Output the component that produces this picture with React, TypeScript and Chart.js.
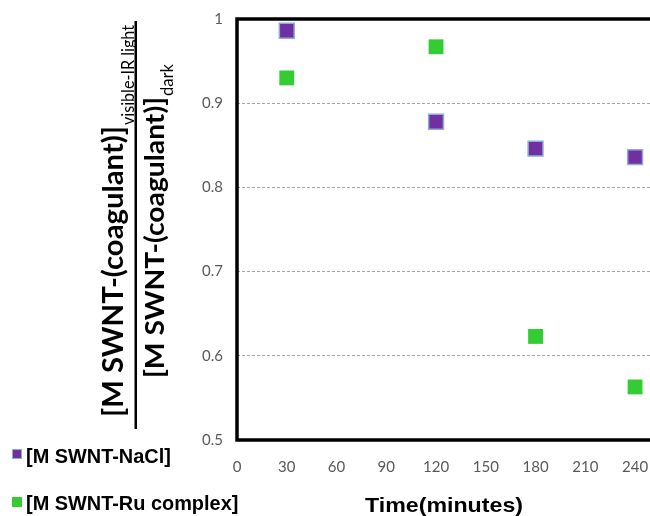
import { useEffect, useRef } from "react";
import { Chart, registerables } from "chart.js";

Chart.register(...registerables);

const timesMin = [30, 120, 180, 240];
const naclRatio = [0.986, 0.878, 0.846, 0.836];
const ruRatio = [0.93, 0.967, 0.623, 0.563];
const xTickValues = [0, 30, 60, 90, 120, 150, 180, 210, 240];
const seriesLabels = ["[M SWNT-NaCl]", "[M SWNT-Ru complex]"];
const seriesColors = ["#7030A0", "#33CC33"];
const seriesBorders = ["#8FAADC", "#33CC33"];
const xTitle = "Time(minutes)";
const yNumMain = "[M SWNT-(coagulant)]";
const yNumSub = "visible-IR light";
const yDenMain = "[M SWNT-(coagulant)]";
const yDenSub = "dark";

const fitFont = (ctx: CanvasRenderingContext2D, text: string, weight: string, family: string, target: number) => {
  ctx.font = `${weight} 100px ${family}`;
  const w = ctx.measureText(text).width;
  return (100 * target) / w;
};

// draw text compressed horizontally (in its own frame) to a target width
const drawSquished = (
  ctx: CanvasRenderingContext2D,
  text: string,
  font: string,
  x: number,
  y: number,
  target: number
) => {
  ctx.save();
  ctx.font = font;
  const w = ctx.measureText(text).width;
  const k = target / w;
  ctx.translate(x, y);
  ctx.scale(k, 1);
  ctx.fillText(text, 0, 0);
  ctx.restore();
};

const decorPlugin = {
  id: "decor",
  afterDraw(chart: any) {
    const { ctx, chartArea } = chart;
    const { left, top, bottom } = chartArea;
    const edge = chart.width + 5;
    ctx.save();
    // frame (top, left, bottom)
    ctx.strokeStyle = "#000";
    ctx.lineWidth = 3.5;
    ctx.lineJoin = "miter";
    ctx.beginPath();
    ctx.moveTo(edge, top);
    ctx.lineTo(left, top);
    ctx.lineTo(left, bottom);
    ctx.lineTo(edge, bottom);
    ctx.stroke();

    // y title as fraction
    const drawRot = (
      main: string,
      sub: string,
      baseX: number,
      startY: number,
      mainSize: number,
      target: number,
      subSize: number,
      subTarget: number,
      subOff: number
    ) => {
      ctx.save();
      ctx.translate(baseX, startY);
      ctx.rotate(-Math.PI / 2);
      ctx.fillStyle = "#000";
      ctx.textBaseline = "alphabetic";
      ctx.textAlign = "left";
      drawSquished(ctx, main, `bold ${mainSize}px Lato`, 0, 0, target);
      drawSquished(ctx, sub, `${subSize}px Lato`, target + 1, subOff, subTarget);
      ctx.restore();
    };
    drawRot(yNumMain, yNumSub, 123, 417, 28, 291, 18, 100, 11);
    drawRot(yDenMain, yDenSub, 164, 378, 27, 281, 18, 32, 9);
    ctx.fillStyle = "#000";
    ctx.fillRect(134.5, 21, 2.5, 408);

    // x title
    ctx.textBaseline = "alphabetic";
    ctx.textAlign = "left";
    ctx.fillStyle = "#000";
    drawSquished(ctx, xTitle, "bold 21px 'Liberation Sans'", 365, 512, 158);

    // legend
    const lSize = fitFont(ctx, seriesLabels[0], "bold", "'Liberation Sans'", 145);
    const rows = [
      { sq: 449, base: 463 },
      { sq: 497, base: 510 },
    ];
    seriesLabels.forEach((lab, i) => {
      ctx.fillStyle = seriesColors[i];
      ctx.fillRect(12, rows[i].sq, 10, 10);
      if (i === 0) {
        ctx.strokeStyle = seriesBorders[i];
        ctx.lineWidth = 1;
        ctx.strokeRect(12.5, rows[i].sq + 0.5, 9, 9);
      }
      ctx.fillStyle = "#000";
      ctx.font = `bold ${lSize}px 'Liberation Sans'`;
      ctx.textAlign = "left";
      ctx.fillText(lab, 26, rows[i].base);
    });
    ctx.restore();
  },
};

export default function App() {
  const ref = useRef<HTMLCanvasElement | null>(null);
  useEffect(() => {
    document.body.style.margin = "0";
    const canvas = ref.current!;
    const chart = new Chart(canvas, {
      type: "scatter",
      data: {
        datasets: [
          {
            label: seriesLabels[0],
            data: timesMin.map((t, i) => ({ x: t, y: naclRatio[i] })),
            backgroundColor: seriesColors[0],
            borderColor: seriesBorders[0],
            borderWidth: 1.5,
            pointStyle: "rect",
            pointRadius: 10.5,
          },
          {
            label: seriesLabels[1],
            data: timesMin.map((t, i) => ({ x: t, y: ruRatio[i] })),
            backgroundColor: seriesColors[1],
            borderColor: seriesBorders[1],
            borderWidth: 0,
            pointStyle: "rect",
            pointRadius: 10.5,
          },
        ],
      },
      options: {
        animation: false,
        responsive: false,
        devicePixelRatio: 1,
        layout: { autoPadding: false, padding: { left: 192, top: 19, right: 0, bottom: 0 } },
        plugins: { legend: { display: false }, tooltip: { enabled: false } },
        scales: {
          x: {
            type: "linear",
            min: 0,
            max: 249,
            bounds: "data",
            afterBuildTicks: (s: any) => {
              s.ticks = xTickValues.map((v) => ({ value: v }));
            },
            afterFit: (s: any) => {
              s.height = 76;
              s.paddingLeft = 0;
              s.paddingRight = 0;
            },
            ticks: {
              stepSize: 30,
              padding: 18,
              color: "#595959",
              font: { family: "Lato", size: 15 },
              maxRotation: 0,
              autoSkip: false,
            },
            grid: { display: false, drawTicks: false },
            border: { display: false },
          },
          y: {
            type: "linear",
            min: 0.5,
            max: 1,
            afterFit: (s: any) => {
              s.width = 45;
              s.paddingTop = 0;
              s.paddingBottom = 0;
            },
            ticks: {
              stepSize: 0.1,
              padding: 14,
              color: "#595959",
              font: { family: "Lato", size: 15 },
              callback: (v: any) => String(Number(Number(v).toFixed(1))),
            },
            grid: { color: "#A6A6A6", lineWidth: 1, drawTicks: false },
            border: { display: false, dash: [3, 2] },
          },
        },
      },
      plugins: [decorPlugin],
    });
    return () => chart.destroy();
  }, []);
  return (
    <div style={{ position: "absolute", left: 0, top: 0, width: 650, height: 516 }}>
      <canvas ref={ref} width={650} height={516} />
    </div>
  );
}
